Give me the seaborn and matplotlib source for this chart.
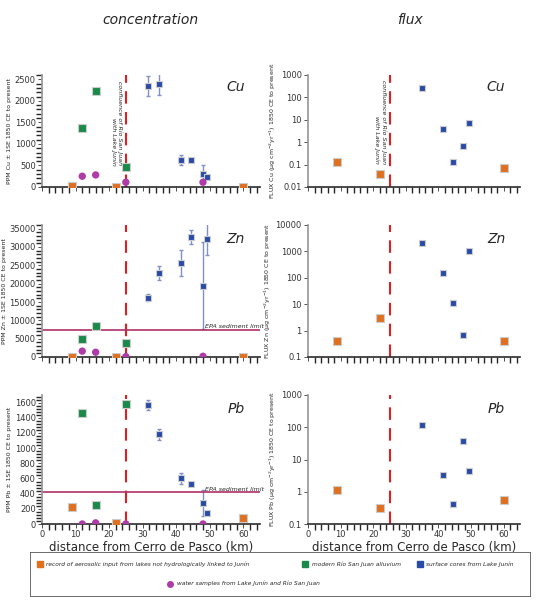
import numpy as np
import matplotlib
matplotlib.use("Agg")
import matplotlib.pyplot as plt
import seaborn as sns
from matplotlib.ticker import AutoMinorLocator

sns.set_theme(style="ticks")
plt.rcParams['font.family'] = ['DejaVu Sans']

# distances (km)
x_or = [9, 22, 60]
x_gr = [12, 16, 25]
x_pu = [12, 16, 25, 48]
x_bl = [31.5, 35, 41.5, 44.5, 48, 49.3]
x_blf = [35, 41.5, 44.5, 47.6, 49.3]

# concentration (ppm)
cu_or = [20, 5, 5]; cu_gr = [1370, 2240, 470]; cu_pu = [250, 280, 110, 110]
cu_bl = [2350, 2390, 630, 620, 310, 230]; cu_bl_err = [230, 260, 110, 0, 190, 0]
zn_or = [100, 100, 100]; zn_gr = [4900, 8400, 3700]; zn_pu = [1600, 1300, 100, 200]
zn_bl = [16200, 23000, 25700, 32700, 19500, 32200]; zn_bl_err = [1000, 1900, 3600, 1900, 11800, 4300]
pb_or = [220, 15, 80]; pb_gr = [1460, 250, 1580]; pb_pu = [0, 15, 0, 0]
pb_bl = [1570, 1180, 600, 530, 280, 150]; pb_bl_err = [70, 70, 70, 0, 170, 0]
epa_zn = 7500; epa_pb = 420

# flux
cuf_or = [0.13, 0.04, 0.07]; cuf_bl = [250, 4, 0.13, 0.65, 7]
znf_or = [0.4, 3, 0.4]; znf_bl = [2000, 150, 11, 0.7, 1000]
pbf_or = [1.1, 0.32, 0.57]; pbf_bl = [115, 3.2, 0.42, 37, 4.5]

OR, GR, PU, BL = '#e07020', '#1a8a4a', '#b03aa8', '#2a4aa8'
fig = plt.figure(figsize=(5.44, 6.0), dpi=100)
W, H = 544, 600
def ax_at(l, t, r, b):
    return fig.add_axes([l / W, 1 - b / H, (r - l) / W, (b - t) / H])

rows = [(75, 187), (225, 357), (395, 524)]
left = [ax_at(42, t, 260, b) for t, b in rows]
right = [ax_at(308, t, 520, b) for t, b in rows]

def sq(ax, x, y, c, s=30):
    sns.scatterplot(x=x, y=y, ax=ax, marker='s', color=c, s=s, edgecolor='#cccccc', linewidth=0.8, legend=False, zorder=3)

def style(ax, label, ylab, log=False):
    ax.set_xlim(0, 65)
    for sp in ['top', 'right']:
        ax.spines[sp].set_visible(False)
    ax.spines['left'].set_color('#999999'); ax.spines['bottom'].set_color('#333333')
    ax.tick_params(labelsize=6, length=3, width=0.6, colors='#333333', pad=1.5)
    ax.xaxis.set_minor_locator(AutoMinorLocator(5))
    if not log:
        ax.yaxis.set_minor_locator(AutoMinorLocator(5))
    ax.text(0.93, 0.86, label, transform=ax.transAxes, fontsize=10, style='italic', ha='right')
    ax.set_ylabel(ylab, fontsize=4.5, labelpad=2)
    ax.axvline(25, color='#e02020', ls=(0, (6, 4)), lw=1.5, zorder=2, clip_on=False)
    ax.set_xticks(range(0, 61, 10))

concs = [(cu_or, cu_gr, cu_pu, cu_bl, cu_bl_err, 'Cu', (0, 2600), 500, None),
         (zn_or, zn_gr, zn_pu, zn_bl, zn_bl_err, 'Zn', (0, 36000), 5000, epa_zn),
         (pb_or, pb_gr, pb_pu, pb_bl, pb_bl_err, 'Pb', (0, 1700), 200, epa_pb)]
for i, (o, g, p, b, be, el, yl, step, epa) in enumerate(concs):
    ax = left[i]
    ax.errorbar(x_bl, b, yerr=be, fmt='none', ecolor='#8090c8', elinewidth=1, capsize=1.5, zorder=2)
    sq(ax, x_or, o, OR); sq(ax, x_gr, g, GR, 38); sq(ax, x_bl, b, BL, 22)
    sns.scatterplot(x=x_pu, y=p, ax=ax, marker='o', color=PU, s=28, edgecolor='none', legend=False, zorder=3)
    ax.set_ylim(*yl)
    ax.set_yticks(np.arange(0, yl[1] + 1, step))
    style(ax, el, f'PPM {el} ± 1SE 1850 CE to present')
    if epa:
        ax.axhline(epa, color='#b0306a', lw=1.2)
        ax.text(48.5, epa * 1.05, 'EPA sediment limit', fontsize=4.5, style='italic')
    if i < 2:
        ax.set_xticklabels([])
left[0].text(24, 2450, 'confluence of Río San Juan\nwith Lake Junín', rotation=270, fontsize=4.5,
             style='italic', ha='right', va='top')

fluxes = [(cuf_or, cuf_bl, 'Cu', (0.01, 1000)), (znf_or, znf_bl, 'Zn', (0.1, 10000)), (pbf_or, pbf_bl, 'Pb', (0.1, 1000))]
for i, (o, b, el, yl) in enumerate(fluxes):
    ax = right[i]
    ax.set_yscale('log')
    sq(ax, x_or, o, OR); sq(ax, x_blf, b, BL, 20)
    ax.set_ylim(*yl)
    ticks = [10.0 ** k for k in range(int(np.log10(yl[0])), int(np.log10(yl[1])) + 1)]
    ax.set_yticks(ticks)
    ax.set_yticklabels([('%g' % t) for t in ticks])
    ax.minorticks_off()
    style(ax, el, f'FLUX {el} (µg cm$^{{-2}}$yr$^{{-1}}$) 1850 CE to present', log=True)
    if i < 2:
        ax.set_xticklabels([])
right[0].text(24, 600, 'confluence of Río San Juan\nwith Lake Junín', rotation=270, fontsize=4.5,
              style='italic', ha='right', va='top')

for ax in (left[2], right[2]):
    ax.set_xlabel('distance from Cerro de Pasco (km)', fontsize=8.5, labelpad=1)
fig.text(150 / W, 1 - 20 / H, 'concentration', fontsize=10, style='italic', ha='center', va='center')
fig.text(410 / W, 1 - 20 / H, 'flux', fontsize=10, style='italic', ha='center', va='center')

lax = ax_at(30, 552, 530, 596)
lax.patch.set_alpha(0)
lax.set_xticks([]); lax.set_yticks([])
for sp in lax.spines.values():
    sp.set_color('#555555'); sp.set_linewidth(0.6)
items = [(0.02, 0.72, 's', OR, 'record of aerosolic input from lakes not hydrologically linked to Junín'),
         (0.55, 0.72, 's', GR, 'modern Río San Juan alluvium'),
         (0.78, 0.72, 's', BL, 'surface cores from Lake Junín'),
         (0.28, 0.28, 'o', PU, 'water samples from Lake Junín and Río San Juan')]
for x, y, m, c, t in items:
    lax.plot([x], [y], marker=m, color=c, ms=4, transform=lax.transAxes)
    lax.text(x + 0.013, y, t, fontsize=4.2, style='italic', va='center', transform=lax.transAxes)

fig.savefig('out.png', dpi=100)
